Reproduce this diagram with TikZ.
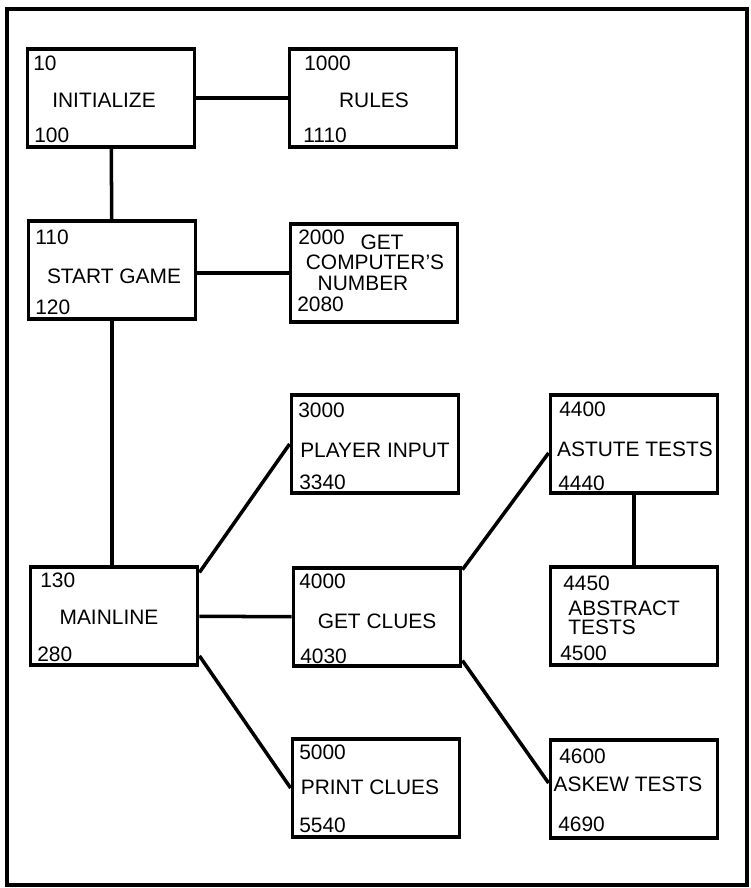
\documentclass[tikz,border=0pt]{standalone}
\usepackage{fontspec}
\setmainfont{Liberation Sans}
\begin{document}
\begin{tikzpicture}[x=0.02cm,y=-0.02cm,
    box/.style={draw,line width=2.2pt,minimum width=3.34cm,minimum height=1.96cm,inner sep=0pt},
    title/.style={inner sep=0pt,font=\fontsize{11.9}{13}\selectfont},
    num/.style={title,anchor=west},
    link/.style={line width=2pt}]
    \useasboundingbox (0,0) rectangle (750,888);
    % frame
    \draw[line width=2.4pt] (7,9) rectangle (747,885);

    % boxes
    \foreach \n/\x/\y in {init/111/98, rules/373/98, start/112/270, getnum/374/273,
        input/375/444, mainline/114/616, clues/377/617, print/376/788,
        astute/634/444, abstract/634/616, askew/634/789}
        \node[box] (\n) at (\x,\y) {};

    % titles
    \foreach \n/\x/\y/\t in {init/104/100/INITIALIZE, rules/374/100/RULES,
        start/114/276/START GAME, input/375/450/PLAYER INPUT, mainline/109/617/MAINLINE,
        clues/377/621/GET CLUES, print/370/787/PRINT CLUES,
        astute/635/449/ASTUTE TESTS, askew/628/784/ASKEW TESTS}
        \node[title] (t-\n) at (\x,\y) {\t};
    \node[title] (t-getnum-a) at (382,242) {GET};
    \node[title] (t-getnum-b) at (375,262) {COMPUTER'S};
    \node[title] (t-getnum-c) at (363,283) {NUMBER};
    \node[num] (t-abstract-a) at (568,608) {ABSTRACT};
    \node[num] (t-abstract-b) at (568,627) {TESTS};

    % line numbers
    \foreach \x/\y/\t in {33/63/10, 34/135/100, 304/63/1000, 303/135/1110,
        35/237/110, 35/307/120, 298/237/2000, 297/304/2080,
        298/410/3000, 299/482/3340, 40/580/130, 37/654/280,
        299/581/4000, 300/656/4030, 299/752/5000, 299/825/5540,
        559/409/4400, 558/483/4440, 563/583/4450, 560/653/4500,
        559/756/4600, 558/824/4690}
        \node[num] (n\t) at (\x,\y) {\t};

    % links
    \draw[link] (init) -- (rules);
    \draw[link] (init) -- (start);
    \draw[link] (start.east |- getnum.west) -- (getnum.west);
    \draw[link] (start.south) -- (start.south |- mainline.north);
    \draw[link] (mainline.27) -- (input.west);
    \draw[link] (mainline) -- (clues);
    \draw[link] (mainline.-25) -- (print.west);
    \draw[link] (clues.29) -- (astute.186);
    \draw[link] (clues.-27) -- (askew.176);
    \draw[link] (astute) -- (abstract);
\end{tikzpicture}
\end{document}
